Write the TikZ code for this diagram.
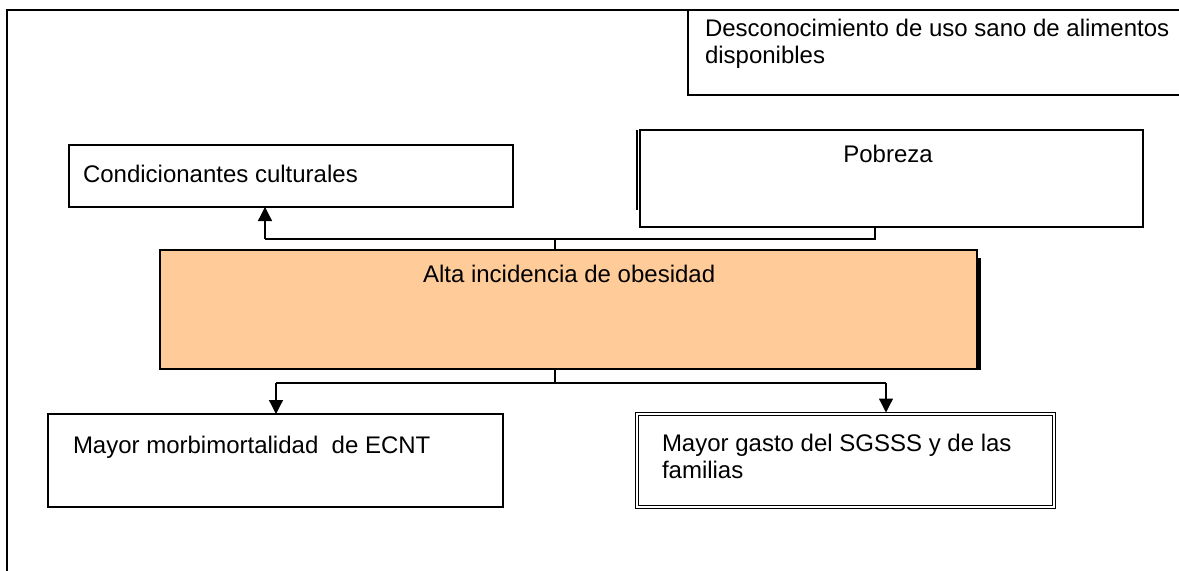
\documentclass[tikz,border=0pt]{standalone}
\usepackage{fontspec}
\setmainfont{Liberation Sans}
\usetikzlibrary{arrows.meta}
\definecolor{peach}{HTML}{FFCC99}
\tikzset{
  box/.style={draw, line width=1.5bp, inner sep=0pt, outer sep=0pt, anchor=north west, fill=white},
  lbl/.style={inner sep=0pt, outer sep=0pt, font=\fontsize{24bp}{27bp}\selectfont, align=left},
  conn/.style={line width=1.3bp},
  arr/.style={conn, -{Triangle[length=14bp,width=14bp]}}
}
\begin{document}
\begin{tikzpicture}[x=1bp,y=-1bp]
\useasboundingbox (0,0) rectangle (1179,571);
% outer frame (extends beyond the page)
\node[box, fill=none, minimum width=1220bp, minimum height=600bp] (frame) at (7,10) {};
% boxes
\node[box, minimum width=520bp, minimum height=85bp] (desc) at (688,10) {};
\node[box, minimum width=444bp, minimum height=62bp] (cond) at (69,145) {};
\draw[line width=2.5bp] (637,130) -- (637,210);
\node[box, minimum width=503bp, minimum height=97bp] (pob) at (640,130) {};
\draw[line width=3bp] (979.5,258) -- (979.5,370);
\node[box, fill=peach, minimum width=817bp, minimum height=119bp] (alta) at (160,250) {};
\node[box, minimum width=455bp, minimum height=93bp] (mayor) at (48,414) {};
\node[box, line width=1.3bp, double, double distance=2.2bp, minimum width=417bp, minimum height=93bp] (gasto) at (637,414) {};
% texts
\node[lbl, anchor=base west] (tdesc) at (705,64) {Desconocimiento de uso sano de alimentos\\disponibles};
\node[lbl, anchor=base west] (tcond) at (83,183) {Condicionantes culturales};
\node[lbl, anchor=base] (tpob) at (888,163) {Pobreza};
\node[lbl, anchor=base west] (talta) at (423,283) {Alta incidencia de obesidad};
\node[lbl, anchor=base west] (tmayor) at (73,453) {Mayor morbimortalidad\ \ de ECNT};
\node[lbl, anchor=base west] (tgasto) at (662,478) {Mayor gasto del SGSSS y de las\\familias};
% connector junctions
\coordinate (jt) at (555,239);
\coordinate (pj) at (875,239);
\coordinate (ca) at (265,239);
\coordinate (jb) at (555,383);
\coordinate (ml) at (276,383);
\coordinate (mr) at (886,383);
% upper connectors
\draw[conn] (alta.north -| jt) -- (jt);
\draw[conn] (pob.south -| pj) -- (pj) -- (ca);
\draw[arr] (ca) -- (ca |- cond.south);
% lower connectors
\draw[conn] (alta.south -| jb) -- (jb);
\draw[conn] (ml) -- (mr);
\draw[arr] (ml) -- (ml |- mayor.north);
\draw[arr] (mr) -- ([yshift=1.5bp]mr |- gasto.north);
\end{tikzpicture}
\end{document}
